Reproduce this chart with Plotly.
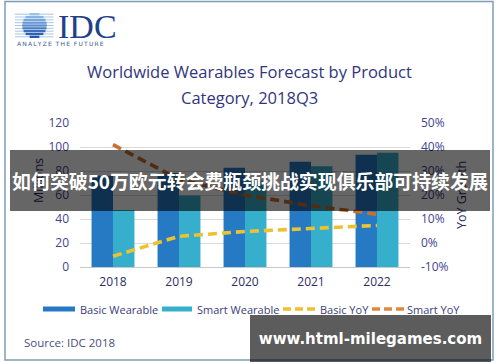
import math
import plotly.graph_objects as go

# ---- data ----
years = ["2018", "2019", "2020", "2021", "2022"]
basic_wearable = [76, 78.3, 82.7, 87.8, 93.6]
smart_wearable = [47.5, 59.5, 72, 84, 95.3]
basic_yoy = [-5.5, 2.8, 4.8, 6.1, 7.3]
smart_yoy = [41, 26.5, 20, 15.5, 12]
left_ticks = [0, 20, 40, 60, 80, 100, 120]
right_ticks = [-10, 0, 10, 20, 30, 40, 50]

BLUE = "#2679c3"
TEAL = "#36afcd"
YELLOW = "#ecc232"
ORANGE = "#c8702f"
NAVY = "#31357e"
TICK = "#3f4390"

W, H = 500, 362
L, R, T, B = 80, 410, 123, 267


def px(x):
    return (x - L) / (R - L)


def py(y):
    return (B - y) / (B - T)


fig = go.Figure()
fig.add_trace(go.Bar(x=years, y=basic_wearable, name="Basic Wearable",
                     marker=dict(color=BLUE, line=dict(width=0))))
fig.add_trace(go.Bar(x=years, y=smart_wearable, name="Smart Wearable",
                     marker=dict(color=TEAL, line=dict(width=0))))
fig.add_trace(go.Scatter(x=years, y=basic_yoy, name="Basic YoY", yaxis="y2",
                         mode="lines", line=dict(color=YELLOW, width=3.6, dash="9px,5px")))
fig.add_trace(go.Scatter(x=years, y=smart_yoy, name="Smart YoY", yaxis="y2",
                         mode="lines", line=dict(color=ORANGE, width=3.6, dash="9px,5px")))

shapes = []
annotations = []

# outer frame
shapes.append(dict(type="rect", xref="paper", yref="paper", x0=px(5), x1=px(493),
                   y0=py(1.5), y1=py(360), line=dict(color="#7d9db5", width=1.5),
                   fillcolor="rgba(0,0,0,0)", layer="above"))

# ---- IDC logo ----
cx, cy, rad = 34.5, 25.5, 12.3
rows = 9
for i in range(rows):
    yy = 14.2 + i * (22.6 / (rows - 1))
    shapes.append(dict(type="line", xref="paper", yref="paper",
                       x0=px(15), x1=px(53.5), y0=py(yy), y1=py(yy),
                       line=dict(color="#a9c6e4", width=1), layer="above"))
    d = abs(yy - cy)
    if d < rad:
        half = math.sqrt(rad * rad - d * d)
        t = i / (rows - 1)
        r_ = int(150 - 120 * t)
        g_ = int(195 - 110 * t)
        b_ = int(235 - 60 * t)
        shapes.append(dict(type="line", xref="paper", yref="paper",
                           x0=px(cx - half), x1=px(cx + half), y0=py(yy), y1=py(yy),
                           line=dict(color=f"rgb({r_},{g_},{b_})", width=2.3), layer="above"))

annotations.append(dict(xref="paper", yref="paper", x=px(56), y=py(26), text="IDC",
                        showarrow=False, xanchor="left", yanchor="middle",
                        font=dict(family="Liberation Serif", size=34, color="#1d4289")))
thin = "\u2009"
tag = thin.join(list("ANALYZE")) + "  " + thin.join(list("THE")) + "  " + thin.join(list("FUTURE"))
annotations.append(dict(xref="paper", yref="paper", x=px(15), y=py(43.5), text=tag,
                        showarrow=False, xanchor="left", yanchor="middle",
                        font=dict(family="DejaVu Sans", size=6, color="#3a5a8c")))

# ---- title ----
annotations.append(dict(xref="paper", yref="paper", x=px(249), y=py(72),
                        text="Worldwide Wearables Forecast by Product", showarrow=False,
                        xanchor="center", yanchor="middle",
                        font=dict(family="Open Sans", size=16.5, color=NAVY)))
annotations.append(dict(xref="paper", yref="paper", x=px(249), y=py(97),
                        text="Category, 2018Q3", showarrow=False,
                        xanchor="center", yanchor="middle",
                        font=dict(family="Open Sans", size=16.5, color=NAVY)))

# ---- axis titles ----
annotations.append(dict(xref="paper", yref="paper", x=px(38), y=py(181), text="Millions",
                        showarrow=False, textangle=-90, xanchor="center", yanchor="middle",
                        font=dict(family="Open Sans", size=12.5, color="#2b2d62")))
annotations.append(dict(xref="paper", yref="paper", x=px(461), y=py(195), text="YoY Growth",
                        showarrow=False, textangle=-90, xanchor="center", yanchor="middle",
                        font=dict(family="Open Sans", size=12.5, color="#2b2d62")))

# ---- custom legend ----
LEG_Y = 309
legend_font = dict(family="Open Sans", size=11, color="#3a3d7a")
shapes.append(dict(type="rect", xref="paper", yref="paper", x0=px(43), x1=px(75),
                   y0=py(306.5), y1=py(311.5), fillcolor=BLUE, line=dict(width=0), layer="above"))
annotations.append(dict(xref="paper", yref="paper", x=px(77.5), y=py(LEG_Y), text="Basic Wearable",
                        showarrow=False, xanchor="left", yanchor="middle", font=legend_font))
shapes.append(dict(type="rect", xref="paper", yref="paper", x0=px(162), x1=px(192),
                   y0=py(306.5), y1=py(311.5), fillcolor=TEAL, line=dict(width=0), layer="above"))
annotations.append(dict(xref="paper", yref="paper", x=px(194.5), y=py(LEG_Y), text="Smart Wearable",
                        showarrow=False, xanchor="left", yanchor="middle", font=legend_font))
shapes.append(dict(type="line", xref="paper", yref="paper", x0=px(283), x1=px(315),
                   y0=py(LEG_Y), y1=py(LEG_Y), line=dict(color="#f0c030", width=3.5, dash="8px,4px"),
                   layer="above"))
annotations.append(dict(xref="paper", yref="paper", x=px(317.5), y=py(LEG_Y), text="Basic YoY",
                        showarrow=False, xanchor="left", yanchor="middle", font=legend_font))
shapes.append(dict(type="line", xref="paper", yref="paper", x0=px(372), x1=px(404),
                   y0=py(LEG_Y), y1=py(LEG_Y), line=dict(color="#e0893d", width=3.5, dash="8px,4px"),
                   layer="above"))
annotations.append(dict(xref="paper", yref="paper", x=px(405), y=py(LEG_Y), text="Smart YoY",
                        showarrow=False, xanchor="left", yanchor="middle", font=legend_font))

# ---- source ----
annotations.append(dict(xref="paper", yref="paper", x=px(22), y=py(342), text="Source: IDC 2018",
                        showarrow=False, xanchor="left", yanchor="middle",
                        font=dict(family="Open Sans", size=11.5, color="#4a4d80")))

# ---- overlay banner (annotation with background so it covers other text) ----
annotations.append(dict(xref="paper", yref="paper", x=px(250), y=py(180.7),
                        text="<b>如何突破50万欧元转会费瓶颈挑战实现俱乐部可持续发展</b>",
                        showarrow=False, xanchor="center", yanchor="middle",
                        width=480, height=61, borderpad=0, borderwidth=0,
                        bgcolor="rgba(0,0,0,0.6)",
                        font=dict(family="Noto Sans CJK SC", size=18.9, color="white")))

# ---- watermark ----
annotations.append(dict(xref="paper", yref="paper", x=px(370.5), y=py(338.5),
                        text="<b>www.html-milegames.com</b>",
                        showarrow=False, xanchor="center", yanchor="middle",
                        width=241, height=47, borderpad=0, borderwidth=0,
                        bgcolor="rgba(0,0,0,0.64)",
                        font=dict(family="DejaVu Sans", size=15, color="white")))

fig.update_layout(
    width=W, height=H, autosize=False,
    margin=dict(l=L, r=W - R, t=T, b=H - B, pad=0),
    paper_bgcolor="white", plot_bgcolor="white",
    barmode="group", bargap=0.35, bargroupgap=0,
    showlegend=False,
    font=dict(family="Open Sans", color=TICK),
    xaxis=dict(type="category", showgrid=False, zeroline=False, showline=False,
               ticks="", ticklabelstandoff=6,
               tickfont=dict(family="Open Sans", size=12, color="#2b2d62")),
    yaxis=dict(range=[0, 120], tickvals=left_ticks, ticktext=[str(v) for v in left_ticks],
               showgrid=True, gridcolor="#d9d9d9", gridwidth=1,
               zeroline=True, zerolinecolor="#c8c8c8", zerolinewidth=1,
               showline=False, ticks="", ticklabelstandoff=10,
               tickfont=dict(family="Open Sans", size=12, color=TICK)),
    yaxis2=dict(range=[-10, 50], tickvals=right_ticks, ticktext=[f"{v}%" for v in right_ticks],
                overlaying="y", side="right", showgrid=False, zeroline=False,
                showline=False, ticks="", ticklabelstandoff=10,
                tickfont=dict(family="Open Sans", size=12, color=TICK)),
    shapes=shapes,
    annotations=annotations,
)

fig.write_html("out.html", config={"displayModeBar": False},
               post_script="document.body.style.margin='0';document.body.style.overflow='hidden';")
